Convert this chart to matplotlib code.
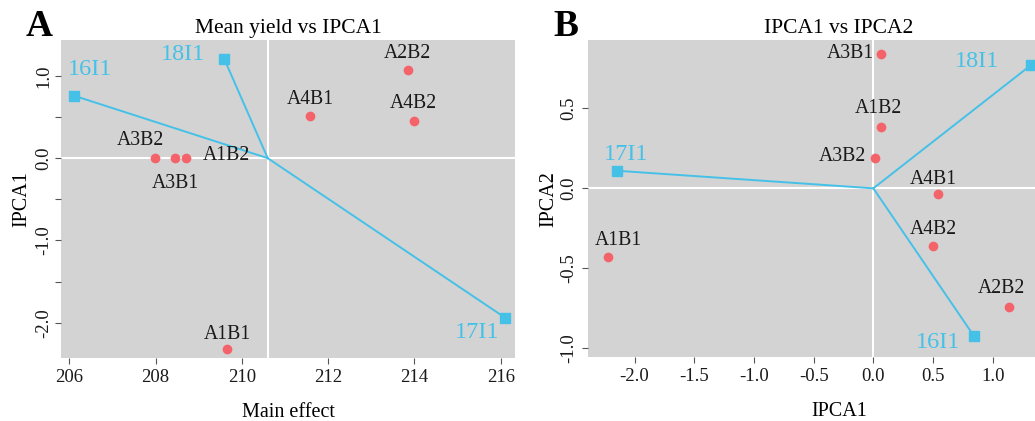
import numpy as np
import matplotlib
matplotlib.use("Agg")
import matplotlib.pyplot as plt

plt.rcParams['font.family'] = ['Liberation Serif', 'DejaVu Serif']
plt.rcParams['axes.unicode_minus'] = False

# genotypes (red points)
genotypes = ['A1B1', 'A1B2', 'A2B2', 'A3B1', 'A3B2', 'A4B1', 'A4B2']
gen_main = [209.66, 208.71, 213.84, 208.45, 207.99, 211.58, 213.98]
gen_ipca1_a = [-2.32, 0.0, 1.07, 0.0, 0.0, 0.51, 0.45]
gen_ipca1_b = [-2.22, 0.065, 1.14, 0.065, 0.017, 0.54, 0.50]
gen_ipca2_b = [-0.43, 0.385, -0.74, 0.84, 0.19, -0.036, -0.36]

# environments (blue squares)
envs = ['16I1', '17I1', '18I1']
env_main = [206.11, 216.10, 209.59]
env_ipca1_a = [0.76, -1.94, 1.21]
env_ipca1_b = [0.84, -2.15, 1.32]
env_ipca2_b = [-0.92, 0.11, 0.77]
grand_mean = 210.60

# label offsets (px) for each panel
gen_off_a = [(0, 14), (40, 3), (0, 17), (1, -25), (-15, 18), (0, 17), (0, 18)]
env_off_a = [(16, 26), (-28, -15), (-41, 4)]
gen_off_b = [(10, 17), (-3, 18), (-8, 18), (-31, 0), (-33, 1), (-4, 15), (0, 16)]
env_off_b = [(-36, -7), (9, 16), (-54, 4)]

RED = '#F5636A'
BLUE = '#45C1E8'
BG = '#D3D3D3'

fig = plt.figure(figsize=(10.35, 4.21), dpi=100)
W, H = 1035, 421


def make_ax(left, right, top, bottom):
    return fig.add_axes([left / W, 1 - bottom / H, (right - left) / W, (bottom - top) / H])


def draw(ax, gx, gy, ex, ey, cx, gofs, eofs):
    ax.set_facecolor(BG)
    for s in ax.spines.values():
        s.set_visible(False)
    ax.axhline(0, color='white', lw=1.5, zorder=1)
    ax.axvline(cx, color='white', lw=1.5, zorder=1)
    for x, y in zip(ex, ey):
        ax.plot([cx, x], [0, y], color=BLUE, lw=1.4, zorder=2)
    ax.plot(ex, ey, 's', color=BLUE, ms=7, zorder=3, clip_on=False)
    ax.plot(gx, gy, 'o', color=RED, ms=7, mec='none', zorder=3)
    for name, x, y, (dx, dy) in zip(genotypes, gx, gy, gofs):
        ax.annotate(name, (x, y), xytext=(dx * 0.72, dy * 0.72), textcoords='offset points',
                    ha='center', va='center', fontsize=14.2, color='#1a1a1a')
    for name, x, y, (dx, dy) in zip(envs, ex, ey, eofs):
        ax.annotate(name, (x, y), xytext=(dx * 0.72, dy * 0.72), textcoords='offset points',
                    ha='center', va='center', fontsize=17.5, color=BLUE)
    ax.tick_params(length=4, color='#555555', labelsize=13.5, labelcolor='#1a1a1a', pad=4)


# panel A
axA = make_ax(61, 515, 40, 358)
draw(axA, gen_main, gen_ipca1_a, env_main, env_ipca1_a, grand_mean, gen_off_a, env_off_a)
axA.set_xlim(205.81, 216.33)
axA.set_ylim(-2.43, 1.437)
axA.set_xticks(np.arange(206, 217, 2))
axA.set_xticklabels([str(v) for v in range(206, 217, 2)])
yt = np.arange(-2.0, 1.01, 0.5)
axA.set_yticks(yt)
axA.set_yticklabels(['%.1f' % v if v == int(v) else '' for v in yt])
plt.setp(axA.get_yticklabels(), rotation=90, va='center')
axA.tick_params(axis='y', pad=2)
axA.set_title('Mean yield vs IPCA1', fontsize=15.5, pad=5)
axA.set_xlabel('Main effect', fontsize=14.5, labelpad=12)
axA.set_ylabel('IPCA1', fontsize=14.5, labelpad=3)
fig.text(26 / W, 1 - 27 / H, 'A', fontsize=27, fontweight='bold', ha='left', va='center')

# panel B
axB = make_ax(588, 1090, 40, 357.3)
draw(axB, gen_ipca1_b, gen_ipca2_b, env_ipca1_b, env_ipca2_b, 0.0, gen_off_b, env_off_b)
axB.set_xlim(-2.39, 1.815)
axB.set_ylim(-1.056, 0.927)
xt = np.arange(-2.0, 1.01, 0.5)
axB.set_xticks(xt)
axB.set_xticklabels(['%.1f' % v for v in xt])
ytb = np.arange(-1.0, 0.51, 0.5)
axB.set_yticks(ytb)
axB.set_yticklabels(['%.1f' % v for v in ytb])
plt.setp(axB.get_yticklabels(), rotation=90, va='center')
axB.set_title('IPCA1 vs IPCA2', fontsize=15.5, pad=5)
axB.set_xlabel('IPCA1', fontsize=14.5, labelpad=12)
axB.set_ylabel('IPCA2', fontsize=14.5, labelpad=1)
fig.text(553 / W, 1 - 27 / H, 'B', fontsize=27, fontweight='bold', ha='left', va='center')

fig.savefig('out.png', dpi=100)
